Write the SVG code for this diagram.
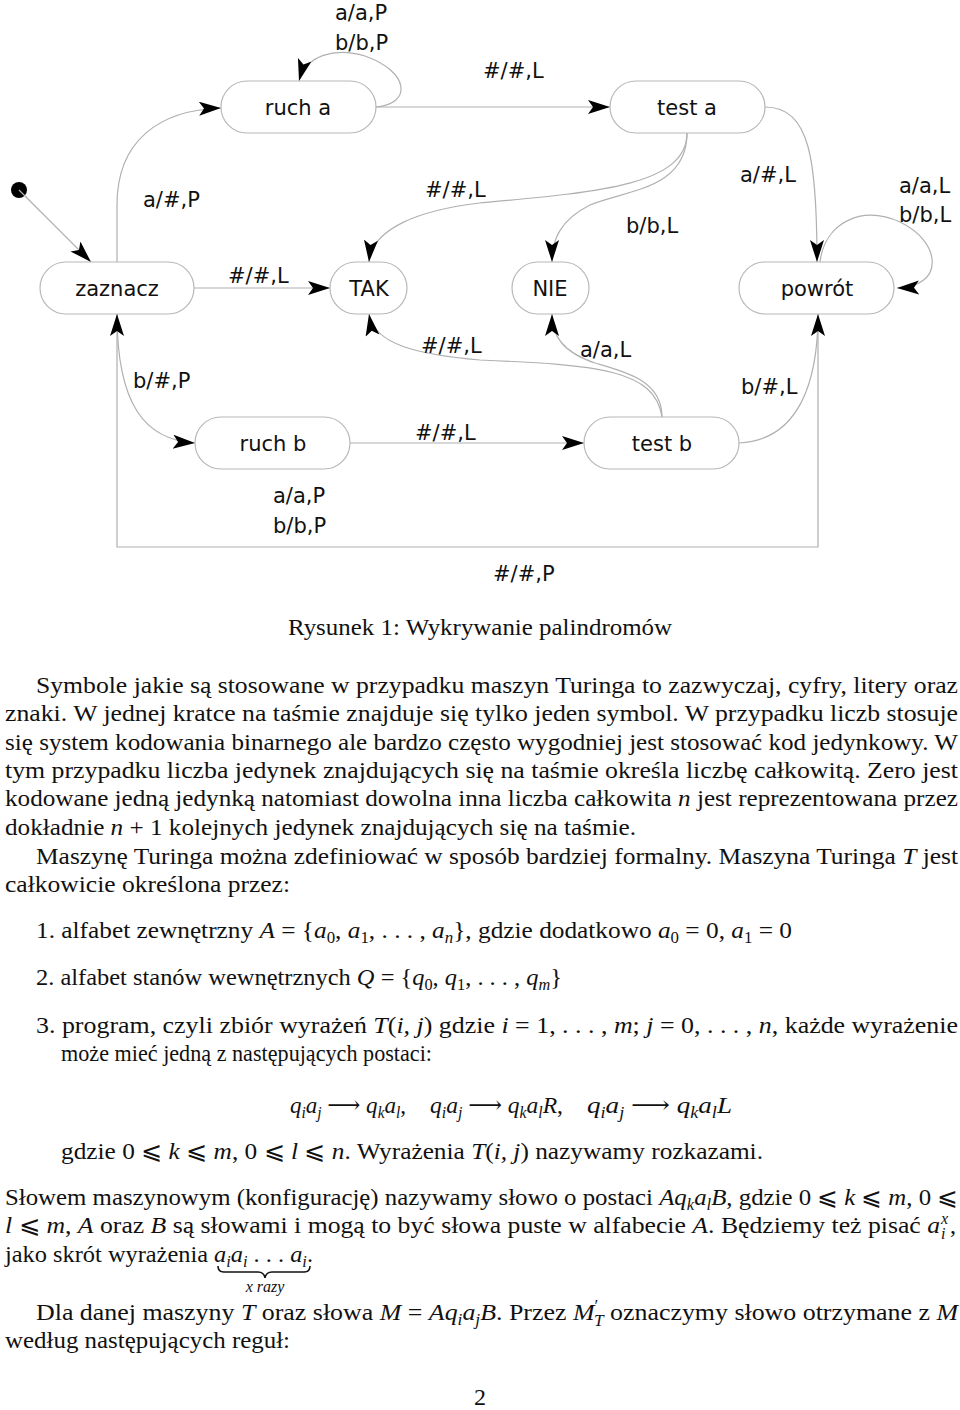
<svg xmlns="http://www.w3.org/2000/svg" width="960" height="1410" viewBox="0 0 960 1410">
<style>
.node rect{fill:#fff;stroke:#b8b8b8;stroke-width:1.2}
.nt{font-family:"DejaVu Sans",Verdana,sans-serif;font-size:21px;fill:#111;text-anchor:middle}
.lb{font-family:"DejaVu Sans",Verdana,sans-serif;font-size:21px;fill:#111}
.edge{fill:none;stroke:#b0b0b0;stroke-width:1.2;marker-end:url(#ah)}
.tx{font-family:"Liberation Serif","DejaVu Serif",serif;font-size:24px;fill:#111}
.sm{font-family:"Liberation Serif","DejaVu Serif",serif;font-size:16px;fill:#111;font-style:italic}
.it{font-style:italic}
</style>
<defs>
<marker id="ah" markerUnits="userSpaceOnUse" markerWidth="24" markerHeight="16" refX="22" refY="7" orient="auto">
<path d="M0,0 L22,7 L0,14 L5,7 z" fill="#000"/>
</marker>
</defs>
<rect width="960" height="1410" fill="#fff"/>

<g id="connectors">
<circle cx="19" cy="190" r="8" fill="#000"/>
<path class="edge" d="M19,190 L91,262"/>
<path class="edge" d="M117,262 L117,205 C117,140 160,110 221,108"/>
<path class="edge" d="M376,107 C412,104 410,72 365,56 C335,47 306,55 299,81"/>
<path class="edge" d="M376,107 L610,107"/>
<path class="edge" d="M687,133 C687,185 600,192 480,203 C420,210 372,228 369,262"/>
<path class="edge" d="M687,133 C687,190 625,190 590,205 C560,220 552,240 552,262"/>
<path class="edge" d="M765,107 C810,107 817,160 817,262"/>
<path class="edge" d="M820,262 C825,222 862,205 900,222 C942,242 945,287 897,288"/>
<path class="edge" d="M194,288 L330,288"/>
<path class="edge" d="M117,314 C117,405 145,440 195,443"/>
<path class="edge" d="M818,330 L818,547 L117,547 L117,314"/>
<path class="edge" d="M350,443 L584,443"/>
<path class="edge" d="M662,417 C662,380 625,372 595,363 C562,352 552,335 552,314"/>
<path class="edge" d="M662,417 C655,370 600,365 480,360 C420,355 374,345 369,314"/>
<path class="edge" d="M739,443 C800,440 818,380 818,314"/>
<text class="lb" x="335" y="20">a/a,P</text>
<text class="lb" x="335" y="50">b/b,P</text>
<text class="lb" x="483" y="78">#/#,L</text>
<text class="lb" x="143" y="207">a/#,P</text>
<text class="lb" x="425" y="197">#/#,L</text>
<text class="lb" x="626" y="233">b/b,L</text>
<text class="lb" x="740" y="182">a/#,L</text>
<text class="lb" x="899" y="193">a/a,L</text>
<text class="lb" x="899" y="222">b/b,L</text>
<text class="lb" x="228" y="283">#/#,L</text>
<text class="lb" x="133" y="388">b/#,P</text>
<text class="lb" x="421" y="353">#/#,L</text>
<text class="lb" x="415" y="440">#/#,L</text>
<text class="lb" x="273" y="503">a/a,P</text>
<text class="lb" x="273" y="533">b/b,P</text>
<text class="lb" x="580" y="357">a/a,L</text>
<text class="lb" x="741" y="394">b/#,L</text>
<text class="lb" x="493" y="581">#/#,P</text>
</g>

<g id="ruch_a" class="node"><rect x="221" y="81" width="155" height="52" rx="26"/><text class="nt" x="298" y="115">ruch a</text></g>
<g id="test_a" class="node"><rect x="610" y="81" width="155" height="52" rx="26"/><text class="nt" x="687" y="115">test a</text></g>
<g id="zaznacz" class="node"><rect x="40" y="262" width="154" height="52" rx="26"/><text class="nt" x="117" y="296">zaznacz</text></g>
<g id="TAK" class="node"><rect x="330" y="262" width="77" height="52" rx="26"/><text class="nt" x="369" y="296">TAK</text></g>
<g id="NIE" class="node"><rect x="512" y="262" width="77" height="52" rx="26"/><text class="nt" x="550" y="296">NIE</text></g>
<g id="powrot" class="node"><rect x="739" y="262" width="155" height="52" rx="26"/><text class="nt" x="817" y="296">powrót</text></g>
<g id="ruch_b" class="node"><rect x="195" y="417" width="155" height="52" rx="26"/><text class="nt" x="273" y="451">ruch b</text></g>
<g id="test_b" class="node"><rect x="584" y="417" width="155" height="52" rx="26"/><text class="nt" x="662" y="451">test b</text></g>

<g id="body">
<text class="tx" x="288" y="635" textLength="384" lengthAdjust="spacingAndGlyphs">Rysunek 1: Wykrywanie palindromów</text>
<text class="tx" x="36" y="693" textLength="922" lengthAdjust="spacingAndGlyphs">Symbole jakie są stosowane w przypadku maszyn Turinga to zazwyczaj, cyfry, litery oraz</text>
<text class="tx" x="5" y="721" textLength="953" lengthAdjust="spacingAndGlyphs">znaki. W jednej kratce na taśmie znajduje się tylko jeden symbol. W przypadku liczb stosuje</text>
<text class="tx" x="5" y="750" textLength="953" lengthAdjust="spacingAndGlyphs">się system kodowania binarnego ale bardzo często wygodniej jest stosować kod jedynkowy. W</text>
<text class="tx" x="5" y="778" textLength="953" lengthAdjust="spacingAndGlyphs">tym przypadku liczba jedynek znajdujących się na taśmie określa liczbę całkowitą. Zero jest</text>
<text class="tx" x="5" y="806" textLength="953" lengthAdjust="spacingAndGlyphs">kodowane jedną jedynką natomiast dowolna inna liczba całkowita <tspan class="it">n</tspan> jest reprezentowana przez</text>
<text class="tx" x="5" y="835" textLength="631" lengthAdjust="spacingAndGlyphs">dokładnie <tspan class="it">n</tspan> + 1 kolejnych jedynek znajdujących się na taśmie.</text>
<text class="tx" x="36" y="864" textLength="922" lengthAdjust="spacingAndGlyphs">Maszynę Turinga można zdefiniować w sposób bardziej formalny. Maszyna Turinga <tspan class="it">T</tspan> jest</text>
<text class="tx" x="5" y="892" textLength="285" lengthAdjust="spacingAndGlyphs">całkowicie określona przez:</text>
<text class="tx" x="36" y="938" textLength="756" lengthAdjust="spacingAndGlyphs">1. alfabet zewnętrzny <tspan class="it">A</tspan> = {<tspan class="it">a</tspan><tspan font-size="16" dy="5">0</tspan><tspan dy="-5">, </tspan><tspan class="it">a</tspan><tspan font-size="16" dy="5">1</tspan><tspan dy="-5">, . . . , </tspan><tspan class="it">a</tspan><tspan font-size="16" class="it" dy="5">n</tspan><tspan dy="-5">}, gdzie dodatkowo </tspan><tspan class="it">a</tspan><tspan font-size="16" dy="5">0</tspan><tspan dy="-5"> = 0, </tspan><tspan class="it">a</tspan><tspan font-size="16" dy="5">1</tspan><tspan dy="-5"> = 0</tspan></text>
<text class="tx" x="36" y="985" textLength="526" lengthAdjust="spacingAndGlyphs">2. alfabet stanów wewnętrznych <tspan class="it">Q</tspan> = {<tspan class="it">q</tspan><tspan font-size="16" dy="5">0</tspan><tspan dy="-5">, </tspan><tspan class="it">q</tspan><tspan font-size="16" dy="5">1</tspan><tspan dy="-5">, . . . , </tspan><tspan class="it">q</tspan><tspan font-size="16" class="it" dy="5">m</tspan><tspan dy="-5">}</tspan></text>
<text class="tx" x="36" y="1033" textLength="922" lengthAdjust="spacingAndGlyphs">3. program, czyli zbiór wyrażeń <tspan class="it">T</tspan>(<tspan class="it">i, j</tspan>) gdzie <tspan class="it">i</tspan> = 1, . . . , <tspan class="it">m</tspan>; <tspan class="it">j</tspan> = 0, . . . , <tspan class="it">n</tspan>, każde wyrażenie</text>
<text class="tx" x="61" y="1061" textLength="371" lengthAdjust="spacingAndGlyphs">może mieć jedną z następujących postaci:</text>
<text class="tx" x="290" y="1113" textLength="116" lengthAdjust="spacingAndGlyphs"><tspan class="it">q</tspan><tspan font-size="16" class="it" dy="5">i</tspan><tspan class="it" dy="-5">a</tspan><tspan font-size="16" class="it" dy="5">j</tspan><tspan dy="-5"> ⟶ </tspan><tspan class="it">q</tspan><tspan font-size="16" class="it" dy="5">k</tspan><tspan class="it" dy="-5">a</tspan><tspan font-size="16" class="it" dy="5">l</tspan><tspan dy="-5">,</tspan></text>
<text class="tx" x="430" y="1113" textLength="133" lengthAdjust="spacingAndGlyphs"><tspan class="it">q</tspan><tspan font-size="16" class="it" dy="5">i</tspan><tspan class="it" dy="-5">a</tspan><tspan font-size="16" class="it" dy="5">j</tspan><tspan dy="-5"> ⟶ </tspan><tspan class="it">q</tspan><tspan font-size="16" class="it" dy="5">k</tspan><tspan class="it" dy="-5">a</tspan><tspan font-size="16" class="it" dy="5">l</tspan><tspan class="it" dy="-5">R</tspan><tspan>,</tspan></text>
<text class="tx" x="587" y="1113" textLength="145" lengthAdjust="spacingAndGlyphs"><tspan class="it">q</tspan><tspan font-size="16" class="it" dy="5">i</tspan><tspan class="it" dy="-5">a</tspan><tspan font-size="16" class="it" dy="5">j</tspan><tspan dy="-5"> ⟶ </tspan><tspan class="it">q</tspan><tspan font-size="16" class="it" dy="5">k</tspan><tspan class="it" dy="-5">a</tspan><tspan font-size="16" class="it" dy="5">l</tspan><tspan class="it" dy="-5">L</tspan></text>
<text class="tx" x="61" y="1159" textLength="702" lengthAdjust="spacingAndGlyphs">gdzie 0 ⩽ <tspan class="it">k</tspan> ⩽ <tspan class="it">m</tspan>, 0 ⩽ <tspan class="it">l</tspan> ⩽ <tspan class="it">n</tspan>. Wyrażenia <tspan class="it">T</tspan>(<tspan class="it">i, j</tspan>) nazywamy rozkazami.</text>
<text class="tx" x="5" y="1205" textLength="953" lengthAdjust="spacingAndGlyphs">Słowem maszynowym (konfigurację) nazywamy słowo o postaci <tspan class="it">Aq</tspan><tspan font-size="16" class="it" dy="5">k</tspan><tspan class="it" dy="-5">a</tspan><tspan font-size="16" class="it" dy="5">l</tspan><tspan class="it" dy="-5">B</tspan><tspan>, gdzie 0 ⩽ </tspan><tspan class="it">k</tspan> ⩽ <tspan class="it">m</tspan>, 0 ⩽</text>
<text class="tx" x="5" y="1233" textLength="935" lengthAdjust="spacingAndGlyphs"><tspan class="it">l</tspan> ⩽ <tspan class="it">m</tspan>, <tspan class="it">A</tspan> oraz <tspan class="it">B</tspan> są słowami i mogą to być słowa puste w alfabecie <tspan class="it">A</tspan>. Będziemy też pisać <tspan class="it">a</tspan></text>
<text class="sm" x="941" y="1224">x</text>
<text class="sm" x="941" y="1239">i</text>
<text class="tx" x="950" y="1233">,</text>
<text class="tx" x="5" y="1262" textLength="308" lengthAdjust="spacingAndGlyphs">jako skrót wyrażenia <tspan class="it">a</tspan><tspan font-size="16" class="it" dy="5">i</tspan><tspan class="it" dy="-5">a</tspan><tspan font-size="16" class="it" dy="5">i</tspan><tspan dy="-5"> . . . </tspan><tspan class="it">a</tspan><tspan font-size="16" class="it" dy="5">i</tspan><tspan dy="-5">.</tspan></text>
<path d="M218,1266 q0,6 6,6 L258,1272 q6,0 7,6 q1,-6 7,-6 L304,1272 q6,0 6,-6" fill="none" stroke="#111" stroke-width="1.5"/>
<text class="sm" x="265" y="1292" text-anchor="middle">x razy</text>
<text class="tx" x="36" y="1320" textLength="922" lengthAdjust="spacingAndGlyphs">Dla danej maszyny <tspan class="it">T</tspan> oraz słowa <tspan class="it">M</tspan> = <tspan class="it">Aq</tspan><tspan font-size="16" class="it" dy="5">i</tspan><tspan class="it" dy="-5">a</tspan><tspan font-size="16" class="it" dy="5">j</tspan><tspan class="it" dy="-5">B</tspan><tspan>. Przez </tspan><tspan class="it">M</tspan><tspan font-size="16" dy="-9">′</tspan><tspan font-size="16" class="it" dx="-4" dy="15">T</tspan><tspan dy="-6"> oznaczymy słowo otrzymane z </tspan><tspan class="it">M</tspan></text>
<text class="tx" x="5" y="1348" textLength="285" lengthAdjust="spacingAndGlyphs">według następujących reguł:</text>
<text class="tx" x="480" y="1405" text-anchor="middle">2</text>
</g>
</svg>
